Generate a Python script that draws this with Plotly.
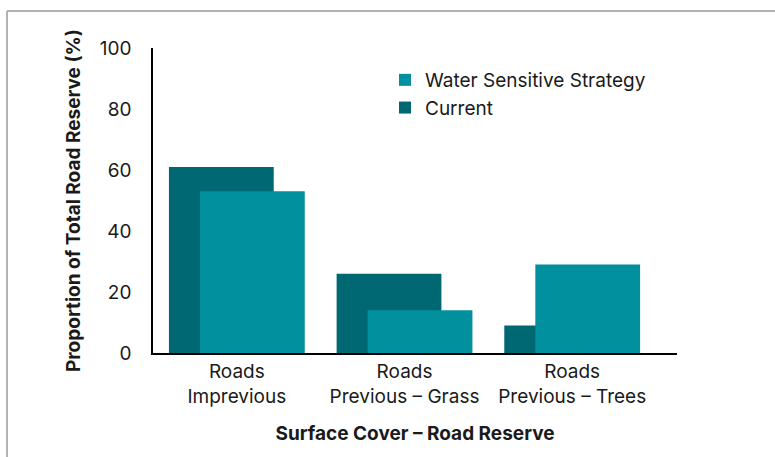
import plotly.graph_objects as go

categories = ["Roads<br>Imprevious", "Roads<br>Previous – Grass", "Roads<br>Previous – Trees"]
current = [61, 26, 9]
water_sensitive = [53, 14, 29]
y_ticks = [0, 20, 40, 60, 80, 100]

FONT = "Inter"
C_CUR = "#006872"
C_WSS = "#00909E"

fig = go.Figure()
fig.add_trace(go.Bar(x=categories, y=current, name="Current", marker_color=C_CUR,
                     width=0.625, offset=-0.405, marker_line_width=0))
fig.add_trace(go.Bar(x=categories, y=water_sensitive, name="Water Sensitive Strategy",
                     marker_color=C_WSS, width=0.625, offset=-0.22, marker_line_width=0))

L, R, T, B = 153, 677, 48, 353
W, H = 775, 457
pw, ph = R - L, B - T

def px(x):
    return (x - L) / pw

def py(y):
    return (B - y) / ph

fig.update_layout(
    width=W, height=H,
    margin=dict(l=L, r=W - R, t=T, b=H - B, pad=0),
    barmode="overlay",
    plot_bgcolor="white", paper_bgcolor="white",
    font=dict(family=FONT, size=19, color="#1a1a1a"),
    showlegend=True,
    legend=dict(x=px(385), y=py(61), xanchor="left", yanchor="top",
                traceorder="reversed", font=dict(size=19, family=FONT),
                bgcolor="rgba(0,0,0,0)", itemwidth=30, tracegroupgap=0),
    xaxis=dict(range=[-0.5, 2.625], showline=True, linecolor="black", linewidth=2,
               ticks="", showgrid=False, zeroline=False,
               tickfont=dict(size=19, family=FONT),
               title=dict(text="<b>Surface Cover – Road Reserve</b>", font=dict(size=19, family=FONT), standoff=20)),
    yaxis=dict(range=[0, 100], tickvals=y_ticks, showline=True, linecolor="black", linewidth=1.5,
               ticks="", showgrid=False, zeroline=False, ticklabelstandoff=16,
               tickfont=dict(size=19, family=FONT),
               title=dict(text="<b>Proportion of Total Road Reserve (%)</b>", font=dict(size=19, family=FONT), standoff=14)),
    shapes=[
        dict(type="line", xref="paper", yref="paper", x0=px(7), x1=px(780), y0=py(11), y1=py(11),
             line=dict(color="#b3b3b3", width=2)),
        dict(type="line", xref="paper", yref="paper", x0=px(7), x1=px(7), y0=py(11), y1=py(470),
             line=dict(color="#b3b3b3", width=2)),
    ],
)

fig.write_html("out.html", config={"displayModeBar": False},
               post_script="document.body.style.margin='0';")
